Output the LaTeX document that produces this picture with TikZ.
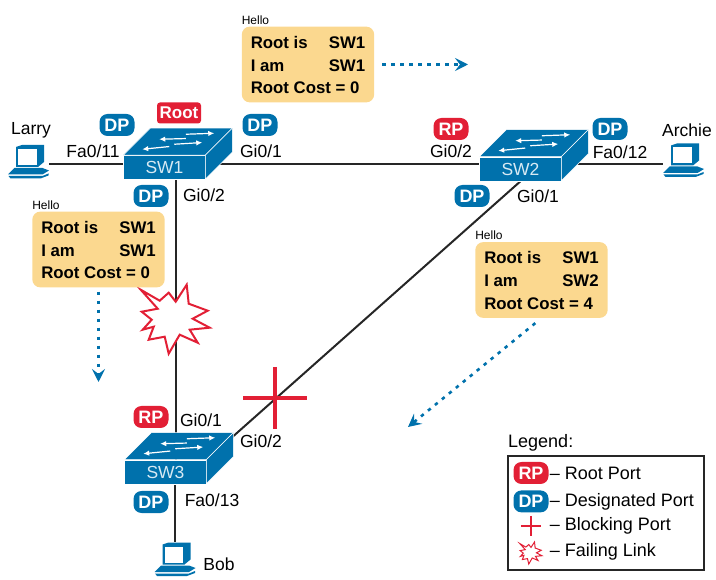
\documentclass[tikz,border=0pt]{standalone}
\usepackage{fontspec}
\setmainfont{Liberation Sans}
\usetikzlibrary{positioning,backgrounds,arrows.meta}
\definecolor{portblue}{HTML}{0071AC}
\definecolor{portred}{HTML}{E21F35}
\definecolor{hellofill}{HTML}{FBD88F}
\definecolor{swtext}{HTML}{D8EAF4}
\newcommand{\hellotext}[3]{%
	\raisebox{-2pt}[\height][\depth]{\begin{tabular}{@{}p{78pt}@{}l@{}}
		Root is & #1 \\
		I am & #2 \\
		\multicolumn{2}{@{}l@{}}{Root Cost = #3}
	\end{tabular}}%
}
\begin{document}
\begin{tikzpicture}[
	x=1pt,y=-1pt,
	switchbox/.style={draw=white,line width=0.5pt,fill=portblue,text=swtext,minimum width=82pt,minimum height=24pt,inner sep=0pt,font=\fontsize{17.5}{20}\selectfont},
	pcbox/.style={minimum width=41pt,minimum height=34pt,inner sep=0pt},
	portlabel/.style={inner sep=0pt,font=\fontsize{17.5}{20}\selectfont},
	badge/.style={rounded corners=8pt,minimum width=35pt,minimum height=22pt,inner sep=0pt,text=white,font=\fontsize{18}{20}\selectfont\bfseries},
	dpbadge/.style={badge,fill=portblue},
	rpbadge/.style={badge,fill=portred},
	rootbadge/.style={fill=portred,rounded corners=3pt,text=white,minimum width=44pt,minimum height=21pt,inner sep=0pt,font=\fontsize{17}{20}\selectfont\bfseries},
	hellobox/.style={fill=hellofill,rounded corners=8pt,inner xsep=9pt,inner ysep=4pt,minimum width=131pt,font=\fontsize{16.8}{22.6}\selectfont\bfseries},
	hellotag/.style={inner sep=0pt,font=\fontsize{12}{14}\selectfont},
	link/.style={draw=black!85,line width=2pt},
	flow/.style={draw=portblue,line width=2.6pt,dash pattern=on 3.5pt off 5.5pt,-{Stealth[length=13pt,width=13pt,inset=5pt]},shorten <=8pt},
	swarrow/.style={white,line width=1.2pt,-{Latex[length=6pt,width=5.5pt]}},
	legendrow/.style={minimum width=35pt,minimum height=22pt,inner sep=0pt},
	legendtext/.style={inner sep=0pt,font=\fontsize{18}{20}\selectfont},
	pics/blockmark/.style={code={
		\draw[portred] (-32,0) -- (32,0) (0,-31) -- (0,31);
	}},
	pics/burstmark/.style={code={
		\draw[portred,fill=white,miter limit=10] (-35,-27) -- (-16,-16) -- (-7,-24) -- (0,-15) -- (11,-32) -- (13,-13) -- (32,-6) -- (17,2) -- (34,11) -- (14,13) -- (22,26) -- (4,18) -- (-7,37) -- (-11,20) -- (-27,23) -- (-22,10) -- (-33,13) -- (-24,3) -- (-34,-5) -- (-18,-8) -- cycle;
	}},
	pics/pcicon/.style={code={
		\fill[portblue] (-12.5,-14.5) -- (-6.5,-16.5) -- (15.5,-16.5) -- (15.5,0.5) -- (9.5,5.5) -- (-12.5,5.5) -- cycle;
		\fill[white] (-10.5,-12.5) rectangle (8,3.5);
		\fill[portblue] (-14,6.5) -- (14,6.5) -- (20.5,9) -- (14,13) -- (-20.5,13) -- cycle;
		\fill[portblue] (-20,14.5) -- (14,14.5) -- (20,12) -- (20,14) -- (12,17) -- (-18,17) -- cycle;
	}}
	]
	\useasboundingbox (0,0) rectangle (716,580);
	\coordinate (trunk) at (0,164);
	\node[switchbox] (sw1) at (164.5,167.5) {SW1};
	\node[switchbox] (sw2) at (520.5,169) {SW2};
	\node[switchbox] (sw3) at (165.5,472) {SW3};
	\node[pcbox] (larry) at (28.5,161.5) {};
	\node[pcbox] (archie) at (683.5,160) {};
	\node[pcbox] (bob) at (175,559) {};
	\node[inner sep=0pt] (burst) at (175.7,316.7) {};
	\node[inner sep=0pt] (block) at (275,398) {};
	\begin{scope}[on background layer]
		\draw[link] (larry.east |- trunk) -- (sw1.west |- trunk);
		\draw[link] (sw1.east |- trunk) -- (sw2.west |- trunk);
		\draw[link] (sw2.east |- trunk) -- (archie.west |- trunk);
		\draw[link] (sw1.south -| burst) -- (sw3.north -| burst);
		\draw[link] (sw2.south) -- (sw3.north east);
		\draw[link] (sw3.south -| bob) -- (bob.north);
	\end{scope}
	\foreach \sw in {sw1,sw2,sw3}{
		\begin{scope}[shift={(\sw.north west)}]
			\draw[white,line width=0.5pt,fill=portblue] (0,0) -- (27,-27) -- (109,-27) -- (82,0) -- cycle;
			\draw[white,line width=0.5pt,fill=portblue] (82,0) -- (109,-27) -- (109,-3) -- (82,24) -- cycle;
			\draw[swarrow] (62.7,-21) -- (91,-22);
			\draw[swarrow] (62.7,-16.7) -- (36,-16);
			\draw[swarrow] (51,-11) -- (79,-12.7);
			\draw[swarrow] (46,-8.7) -- (19,-6);
		\end{scope}
	}
	\pic at (larry.center) {pcicon};
	\pic at (archie.center) {pcicon};
	\pic at (bob.center) {pcicon};
	\pic[line width=2pt] at (burst.center) {burstmark};
	\pic[line width=3.5pt] at (block.center) {blockmark};
	\node[rootbadge] (root) at (179,113) {Root};
	\node[dpbadge] (dpa) at (117,125) {DP};
	\node[dpbadge] (dpb) at (260,125) {DP};
	\node[dpbadge] (dpc) at (151,196) {DP};
	\node[rpbadge] (rpa) at (451,129) {RP};
	\node[dpbadge] (dpd) at (610,129) {DP};
	\node[dpbadge] (dpe) at (472,196) {DP};
	\node[rpbadge] (rpb) at (151,417) {RP};
	\node[dpbadge] (dpf) at (151,502) {DP};
	\node[portlabel] (lblarry) at (31,130) {Larry};
	\node[portlabel] (lbarchie) at (687,130) {Archie};
	\node[portlabel] (lbbob) at (219,564) {Bob};
	\node[portlabel] (faa) at (93,151) {Fa0/11};
	\node[portlabel] (gia) at (261,151) {Gi0/1};
	\node[portlabel] (gib) at (204,195) {Gi0/2};
	\node[portlabel] (gic) at (451,151) {Gi0/2};
	\node[portlabel] (fab) at (620,152) {Fa0/12};
	\node[portlabel] (gid) at (538,196) {Gi0/1};
	\node[portlabel] (gie) at (201,420) {Gi0/1};
	\node[portlabel] (gif) at (261,441) {Gi0/2};
	\node[portlabel] (fac) at (212,500) {Fa0/13};
	\node[hellobox] (helloa) at (308,64.5) {\hellotext{SW1}{SW1}{0}};
	\node[hellobox] (hellob) at (98.5,249.5) {\hellotext{SW1}{SW1}{0}};
	\node[hellobox] (helloc) at (541.5,280) {\hellotext{SW1}{SW2}{4}};
	\node[hellotag,above right=2pt and 0pt of helloa.north west] (taga) {Hello};
	\node[hellotag,above right=2pt and 0pt of hellob.north west] (tagb) {Hello};
	\node[hellotag,above right=2pt and 0pt of helloc.north west] (tagc) {Hello};
	\coordinate (flowa) at (468,64.5);
	\coordinate (flowb) at (98.5,382);
	\coordinate (flowc) at (408,427);
	\draw[flow] (helloa.east) -- (flowa);
	\draw[flow,shorten <=4pt] (hellob.south) -- (flowb);
	\draw[flow,shorten <=8pt] (helloc.south) -- (flowc);
	\node[draw=black!85,line width=2pt,minimum width=196pt,minimum height=114pt,inner sep=0pt] (legendbox) at (606,513) {};
	\node[inner sep=0pt,font=\fontsize{18}{20}\selectfont,above right=4pt and 1pt of legendbox.north west] (legendtitle) {Legend:};
	\node[rpbadge] (legrp) at (531,473) {RP};
	\node[dpbadge,below=6pt of legrp] (legdp) {DP};
	\node[legendrow,below=2pt of legdp] (legblock) {};
	\node[legendrow,below=4pt of legblock] (legburst) {};
	\pic[scale=0.32,line width=1.5pt] at (legblock.center) {blockmark};
	\pic[scale=0.32,line width=1pt] at (legburst.center) {burstmark};
	\node[legendtext,right=1pt of legrp] (txtrp) {-- Root Port};
	\node[legendtext,right=1pt of legdp] (txtdp) {-- Designated Port};
	\node[legendtext,right=1pt of legblock] (txtblock) {-- Blocking Port};
	\node[legendtext,right=1pt of legburst] (txtburst) {-- Failing Link};
\end{tikzpicture}
\end{document}
